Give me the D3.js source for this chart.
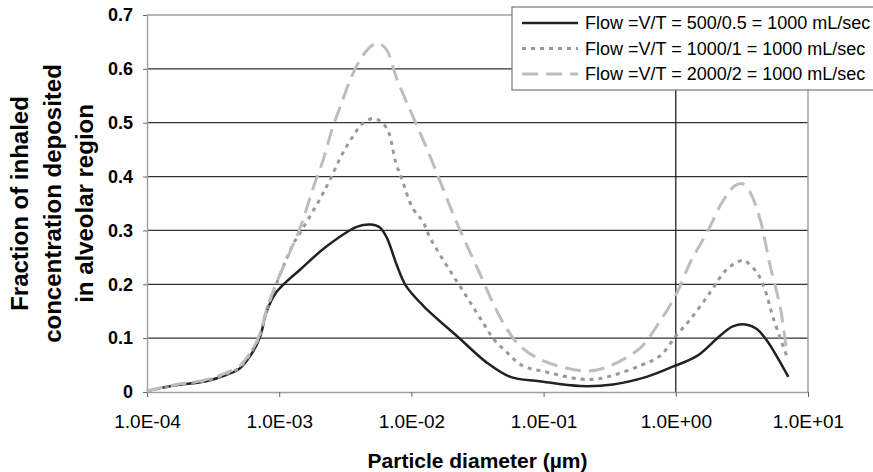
<!DOCTYPE html>
<html>
<head>
<meta charset="utf-8">
<script src="https://cdn.jsdelivr.net/npm/d3@7"></script>
<style>
  body { margin: 0; background: #fff; overflow: hidden; }
  svg { display: block; font-family: Arial, "Liberation Sans", sans-serif; }
</style>
</head>
<body>
<svg id="chart" width="873" height="472"></svg>
<script>
'use strict';

// data: [particle diameter (um), fraction deposited]
const flow500 = [
	[1e-4, 0.002], [1.6e-4, 0.012], [2.8e-4, 0.020], [4e-4, 0.032], [5e-4, 0.043],
	[6.3e-4, 0.074], [7.2e-4, 0.104], [8e-4, 0.148], [9.5e-4, 0.185], [1.45e-3, 0.228],
	[2.3e-3, 0.271], [3.9e-3, 0.307], [4.9e-3, 0.311], [5.75e-3, 0.306], [6.5e-3, 0.287],
	[7.8e-3, 0.234], [9.1e-3, 0.197], [1.23e-2, 0.160], [2.35e-2, 0.098], [3.7e-2, 0.055],
	[5.6e-2, 0.028], [9.3e-2, 0.020], [0.19, 0.011], [0.335, 0.014], [0.6, 0.028],
	[0.95, 0.047], [1.45, 0.067], [2.15, 0.104], [2.7, 0.122], [3.45, 0.125],
	[4.1, 0.117], [4.9, 0.095], [7.1, 0.028]
];
const flow1000 = [
	[1e-4, 0.002], [1.6e-4, 0.012], [2.8e-4, 0.021], [4e-4, 0.033], [5e-4, 0.045],
	[6.3e-4, 0.078], [7.2e-4, 0.108], [8e-4, 0.150], [9.5e-4, 0.200], [1.26e-3, 0.272],
	[1.5e-3, 0.303], [2.05e-3, 0.360], [2.4e-3, 0.392], [3e-3, 0.442], [3.6e-3, 0.474],
	[4.25e-3, 0.498], [5.25e-3, 0.508], [6.5e-3, 0.490], [7.6e-3, 0.427], [8.5e-3, 0.394],
	[1.02e-2, 0.342], [1.23e-2, 0.315], [1.38e-2, 0.287], [1.86e-2, 0.234], [2.6e-2, 0.178],
	[3.45e-2, 0.130], [4.2e-2, 0.098], [5.25e-2, 0.074], [6.9e-2, 0.049], [0.105, 0.037],
	[0.19, 0.024], [0.25, 0.024], [0.335, 0.031], [0.54, 0.049], [0.76, 0.067],
	[1.0, 0.104], [1.29, 0.135], [1.82, 0.185], [2.43, 0.228], [3.1, 0.244],
	[3.3, 0.244], [4.1, 0.222], [4.7, 0.191], [5.5, 0.135], [6.9, 0.067]
];
const flow2000 = [
	[1e-4, 0.002], [1.6e-4, 0.013], [2.8e-4, 0.023], [4e-4, 0.036], [5e-4, 0.048],
	[6.3e-4, 0.080], [7.2e-4, 0.110], [8e-4, 0.152], [9.3e-4, 0.196], [1.2e-3, 0.259],
	[1.45e-3, 0.307], [1.82e-3, 0.381], [2.15e-3, 0.431], [2.55e-3, 0.493], [2.9e-3, 0.530],
	[3.45e-3, 0.580], [4.1e-3, 0.617], [4.9e-3, 0.641], [5.6e-3, 0.648], [6.5e-3, 0.635],
	[7.8e-3, 0.580], [1.32e-2, 0.450], [1.66e-2, 0.389], [2.2e-2, 0.315], [3.1e-2, 0.234],
	[4.9e-2, 0.130], [6.6e-2, 0.086], [9.3e-2, 0.061], [0.14, 0.046], [0.21, 0.039],
	[0.30, 0.046], [0.54, 0.082], [0.72, 0.123], [1.0, 0.180], [1.29, 0.241],
	[1.72, 0.296], [2.3, 0.357], [2.8, 0.383], [3.15, 0.387], [3.6, 0.373],
	[4.35, 0.320], [5.1, 0.241], [6.2, 0.154], [6.9, 0.074]
];

const seriesLabels = [
	'Flow =V/T = 500/0.5 = 1000 mL/sec',
	'Flow =V/T = 1000/1 = 1000 mL/sec',
	'Flow =V/T = 2000/2 = 1000 mL/sec'
];
const xTicks = [1e-4, 1e-3, 1e-2, 1e-1, 1e0, 1e1];
const yTicks = [0, 0.1, 0.2, 0.3, 0.4, 0.5, 0.6, 0.7];

const styles = [
	{stroke: '#222', width: 2.5, dash: null},
	{stroke: '#999', width: 3, dash: '4,5'},
	{stroke: '#bdbdbd', width: 3, dash: '16,8'}
];

const svg = d3.select('#chart');
const margin = {left: 147, top: 15, right: 65, bottom: 80};
const W = +svg.attr('width'), H = +svg.attr('height');

const x = d3.scaleLog().domain([1e-4, 1e1]).range([margin.left, W - margin.right]);
const y = d3.scaleLinear().domain([0, 0.7]).range([H - margin.bottom, margin.top]);

// horizontal grid
svg.append('g')
	.selectAll('line')
	.data(yTicks.filter(d => d > 0 && d < 0.7))
	.join('line')
	.attr('x1', x(1e-4)).attr('x2', x(1e1))
	.attr('y1', d => y(d)).attr('y2', d => y(d))
	.attr('stroke', '#333').attr('stroke-width', 1.3);

// plot frame (top / right)
svg.append('path')
	.attr('d', `M${x(1e-4)},${y(0.7)}H${x(1e1)}V${y(0)}`)
	.attr('fill', 'none').attr('stroke', '#a0a0a0').attr('stroke-width', 1.5);

// vertical reference line at 1 um
svg.append('line')
	.attr('x1', x(1)).attr('x2', x(1))
	.attr('y1', y(0)).attr('y2', y(0.7))
	.attr('stroke', '#111').attr('stroke-width', 1.2);

// axes
const fmtSci = d => {
	const e = Math.round(Math.log10(d));
	return '1.0E' + (e < 0 ? '-' : '+') + String(Math.abs(e)).padStart(2, '0');
};

const xAxis = svg.append('g')
	.attr('transform', `translate(0,${y(0)})`)
	.call(d3.axisBottom(x).tickValues(xTicks).tickFormat(fmtSci).tickSize(5).tickPadding(18).tickSizeOuter(0));
xAxis.selectAll('text').attr('font-size', 19).attr('fill', '#000');

const yAxis = svg.append('g')
	.attr('transform', `translate(${x(1e-4)},0)`)
	.call(d3.axisLeft(y).tickValues(yTicks).tickFormat(d => d === 0 ? '0' : d.toFixed(1)).tickSize(4).tickPadding(10).tickSizeOuter(0));
yAxis.selectAll('text').attr('font-size', 18).attr('font-weight', 'bold').attr('fill', '#000');

[xAxis, yAxis].forEach(a => {
	a.select('.domain').attr('stroke', '#a0a0a0').attr('stroke-width', 1.5);
	a.selectAll('.tick line').attr('stroke', '#666');
	a.attr('font-family', null);
});

// curves
const line = d3.line()
	.x(d => x(d[0]))
	.y(d => y(d[1]))
	.curve(d3.curveCatmullRom.alpha(0.5));

[flow500, flow1000, flow2000].forEach((data, i) => {
	svg.append('path')
		.datum(data)
		.attr('d', line)
		.attr('fill', 'none')
		.attr('stroke', styles[i].stroke)
		.attr('stroke-width', styles[i].width)
		.attr('stroke-dasharray', styles[i].dash)
		.attr('stroke-linejoin', 'round');
});

// legend
const legend = svg.append('g').attr('transform', 'translate(512,7)');
legend.append('rect')
	.attr('width', 380).attr('height', 83)
	.attr('fill', '#fff').attr('stroke', '#777').attr('stroke-width', 1.2);

const rows = legend.selectAll('g.row')
	.data(seriesLabels)
	.join('g')
	.attr('class', 'row')
	.attr('transform', (d, i) => `translate(0,${16 + i * 25.5})`);

rows.append('line')
	.attr('x1', 10).attr('x2', 66)
	.attr('stroke', (d, i) => styles[i].stroke)
	.attr('stroke-width', (d, i) => styles[i].width)
	.attr('stroke-dasharray', (d, i) => styles[i].dash);

rows.append('text')
	.attr('x', 73).attr('dy', '0.35em')
	.attr('font-size', 18)
	.text(d => d);

// axis titles
svg.append('text')
	.attr('x', (x(1e-4) + x(1e1)) / 2)
	.attr('y', 468)
	.attr('text-anchor', 'middle')
	.attr('font-size', 21)
	.attr('font-weight', 'bold')
	.text('Particle diameter (\u00b5m)');

const yTitle = svg.append('text')
	.attr('transform', `translate(0,${(y(0) + y(0.7)) / 2}) rotate(-90)`)
	.attr('text-anchor', 'middle')
	.attr('font-size', 24)
	.attr('font-weight', 'bold');

['Fraction of inhaled', 'concentration deposited', 'in alveolar region'].forEach((t, i) => {
	yTitle.append('tspan')
		.attr('x', 0)
		.attr('y', 28 + i * 32.5)
		.text(t);
});
</script>
</body>
</html>
